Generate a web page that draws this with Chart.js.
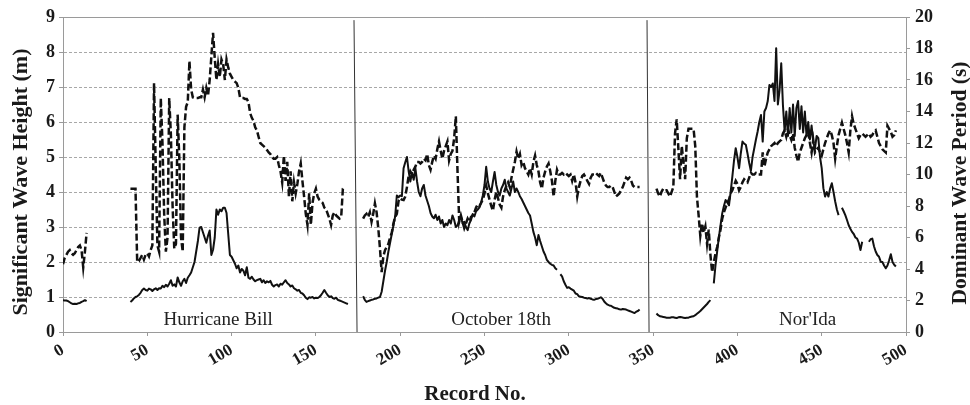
<!DOCTYPE html>
<html><head><meta charset="utf-8">
<script src="https://cdn.jsdelivr.net/npm/chart.js@4.4.0/dist/chart.umd.min.js"></script>
<style>html,body{margin:0;padding:0;background:#fff;}#wrap{width:970px;height:405px;}</style>
</head><body><div id="wrap"><canvas id="c" width="970" height="405"></canvas></div>
<script>
// ---- DATA ----
const xTickValues = [0,50,100,150,200,250,300,350,400,450,500];
const heightTickValues = [0,1,2,3,4,5,6,7,8,9];
const periodTickValues = [0,2,4,6,8,10,12,14,16,18,20];

// significant wave height (m): segments start at these record numbers, one value per record
const heightStarts = [0, 40, 178, 352, 386];
const heightBillEarly = [0.91,0.90,0.90,0.88,0.85,0.82,0.80,0.81,0.80,0.82,0.83,0.86,0.88,0.91,0.88];
const heightBill = [
 0.86,0.90,0.96,1.00,1.02,1.06,1.12,1.20,1.24,1.20,
 1.18,1.24,1.22,1.17,1.22,1.25,1.20,1.25,1.24,1.32,
 1.28,1.35,1.30,1.38,1.48,1.32,1.36,1.30,1.56,1.42,
 1.32,1.45,1.52,1.40,1.55,1.62,1.70,1.85,2.00,2.30,
 2.60,2.98,3.00,2.85,2.70,2.55,2.75,2.90,2.20,2.35,
 2.70,3.50,3.35,3.50,3.45,3.55,3.55,3.40,2.80,2.20,
 2.15,2.05,1.95,1.82,1.90,1.70,1.80,1.75,1.62,1.85,
 1.55,1.52,1.58,1.50,1.45,1.48,1.50,1.52,1.42,1.48,
 1.40,1.45,1.42,1.46,1.35,1.30,1.34,1.36,1.30,1.38,
 1.35,1.42,1.48,1.40,1.36,1.30,1.33,1.25,1.22,1.18,
 1.20,1.12,1.10,1.05,0.98,0.94,0.99,0.98,1.00,0.96,
 0.98,0.97,1.00,1.05,1.12,1.20,1.12,1.05,1.00,1.02,
 0.97,0.95,0.98,0.92,0.90,0.88,0.86,0.84,0.82,0.80];
const heightOctober = [
 1.02,0.92,
 0.86,0.88,0.90,0.92,0.93,0.95,0.96,0.98,1.00,1.15,
 1.45,1.75,2.00,2.30,2.55,2.80,3.05,3.30,3.90,3.85,
 3.90,3.88,4.68,4.85,5.00,4.60,4.30,4.55,4.35,4.68,
 4.30,4.00,3.88,4.10,4.20,3.90,3.75,3.60,3.40,3.30,
 3.25,3.35,3.20,3.30,3.10,3.20,3.00,3.10,3.05,3.20,
 3.10,3.33,3.20,3.00,3.05,3.20,3.30,3.10,3.15,3.00,
 2.91,3.10,3.20,3.37,3.30,3.45,3.50,3.56,3.70,3.90,
 4.20,4.72,4.30,4.10,4.00,4.30,4.57,4.20,4.00,3.90,
 4.10,4.20,4.35,4.10,4.00,3.90,4.10,4.30,4.00,4.10,
 4.00,3.88,3.80,3.70,3.60,3.50,3.40,3.33,3.10,2.86,
 2.70,2.48,2.77,2.60,2.45,2.30,2.20,2.06,2.00,1.95,
 1.92,1.90,1.82,1.78,null,1.65,1.59,1.45,1.35,1.26,
 1.28,1.24,1.21,1.18,1.10,1.08,1.02,1.01,1.00,0.98,
 0.97,0.96,0.97,0.95,0.93,0.92,0.94,0.95,0.97,0.99,
 0.95,0.87,0.82,0.78,0.76,0.75,0.72,0.69,0.68,0.67,
 0.65,0.64,0.66,0.65,0.64,0.62,0.60,0.58,0.56,0.54,
 0.58,0.60,0.64];
const heightNorIdaEarly = [
 0.53,0.48,0.45,0.44,0.43,0.42,0.41,0.41,0.41,0.42,
 0.42,0.41,0.40,0.42,0.43,0.42,0.41,0.40,0.41,0.41,
 0.43,0.44,0.45,0.48,0.52,0.56,0.60,0.65,0.70,0.75,
 0.80,0.86,0.91];
const heightNorIda = [
 1.39,1.90,2.30,2.70,3.05,3.39,3.60,3.77,3.70,3.62,
 4.00,4.44,4.90,5.25,5.00,4.68,5.10,5.44,5.38,5.35,
 5.10,4.83,4.60,5.00,5.25,5.50,5.73,6.00,6.20,5.44,
 6.30,6.40,6.60,7.06,7.00,7.10,6.60,8.11,6.50,6.90,
 7.68,6.49,5.73,6.30,5.60,6.40,5.70,6.50,5.60,6.40,
 6.60,5.80,6.45,5.70,6.30,5.60,6.00,5.50,5.90,5.40,
 5.25,5.60,5.54,5.00,4.68,4.11,3.87,4.00,3.87,4.10,
 4.25,4.00,3.73,3.50,3.34,null,3.55,3.45,3.34,3.20,
 3.05,2.95,2.86,2.80,2.70,2.67,2.55,2.34,2.58,null,
 null,null,2.58,2.65,2.67,2.45,2.30,2.20,2.15,2.01,
 2.00,1.90,1.82,1.90,2.05,2.22,2.00,1.92,1.87];

// dominant wave period (s)
const periodStarts = [0, 40, 178, 352];
const periodBillEarly = [4.3,4.7,4.9,5.1,5.2,5.0,4.9,5.0,5.2,5.4,5.5,5.2,4.1,5.1,6.3];
const periodBill = [
 9.1,9.1,9.1,9.1,4.45,4.5,4.7,4.9,4.6,4.9,
 5.0,4.8,5.2,5.5,15.8,10.5,5.5,5.1,14.85,12.0,
 7.5,5.1,6.0,14.85,12.5,8.0,5.3,5.6,13.8,11.0,
 6.0,5.1,13.0,14.3,14.6,17.2,15.4,14.9,14.85,14.85,
 14.85,14.9,14.9,15.4,14.9,15.5,15.0,16.0,17.5,19.0,
 17.4,16.0,17.0,16.2,17.3,17.0,16.0,17.3,16.8,16.4,
 16.2,16.0,15.9,15.8,15.5,14.9,14.85,14.85,14.8,14.8,
 14.6,13.9,13.6,13.4,13.0,12.8,12.4,12.0,11.9,11.8,
 11.7,11.55,11.4,11.3,11.1,11.0,11.0,11.1,10.6,10.2,
 9.5,11.2,9.6,10.8,8.6,10.2,8.3,9.5,8.8,9.4,
 10.2,10.7,9.6,8.6,7.5,6.8,8.8,6.8,8.2,8.8,
 9.1,8.6,8.4,8.3,8.2,7.9,7.8,7.5,7.2,6.8,
 7.4,7.6,7.4,7.3,7.2,7.3,9.1,9.2];
const periodOctober = [
 7.2,7.4,
 7.5,7.3,7.6,7.0,7.5,8.17,7.6,6.6,5.3,3.8,
 4.8,5.2,5.4,5.6,6.0,6.3,6.9,7.3,7.5,8.3,
 8.5,8.4,8.38,8.6,9.2,9.9,10.2,10.0,10.3,10.5,
 10.8,10.8,10.7,10.8,11.0,10.9,11.3,10.6,10.3,10.8,
 11.2,11.0,11.6,12.1,11.5,11.0,11.5,11.8,12.1,10.9,
 11.3,11.5,12.3,13.7,10.2,7.0,7.4,7.0,6.6,6.9,
 7.2,7.0,7.3,7.4,7.6,7.9,8.1,8.0,8.2,8.4,
 8.8,9.3,8.8,8.4,8.0,7.7,8.4,8.9,8.5,8.1,
 7.9,8.6,9.0,9.3,9.5,9.2,9.8,10.3,10.8,11.45,
 11.0,11.3,10.6,10.8,10.4,10.2,10.0,10.4,10.0,10.8,
 11.2,10.6,10.2,9.5,9.1,9.8,10.2,10.5,10.7,10.2,
 9.6,8.6,9.6,10.3,10.0,10.0,10.1,10.0,10.1,10.0,
 9.9,10.0,9.6,10.0,9.5,8.6,9.2,9.6,9.9,10.0,
 9.8,9.6,9.4,9.8,10.0,10.0,10.1,10.0,9.9,10.1,
 9.8,9.5,9.3,9.2,9.2,9.3,9.2,8.9,8.6,8.7,
 8.8,9.0,9.2,9.5,9.8,9.7,9.8,9.6,9.3,9.2,
 9.2,9.2,9.2];
const periodNorIda = [
 9.1,8.8,8.6,8.9,9.1,9.0,9.0,8.8,8.6,8.9,
 9.2,12.6,13.5,11.6,9.7,11.8,10.8,9.7,12.3,12.9,
 12.9,12.9,12.9,11.8,8.6,7.4,6.1,6.9,6.3,6.7,
 5.6,6.5,4.9,3.8,4.4,5.0,5.4,6.0,6.5,7.2,
 7.6,7.9,8.2,8.4,8.8,9.0,9.3,9.6,9.4,9.0,
 9.2,9.5,9.7,9.6,9.5,9.8,10.1,10.0,10.0,10.1,
 10.0,10.0,10.0,11.4,10.5,11.0,11.4,11.6,11.8,11.9,
 12.0,11.8,12.0,12.1,12.2,12.6,12.8,12.4,12.9,12.5,
 12.2,12.6,11.7,11.2,10.8,11.4,11.7,12.0,12.3,12.5,
 12.7,12.0,11.4,12.2,11.4,11.6,11.7,11.4,11.2,11.6,
 12.0,12.3,12.6,12.8,12.5,12.0,11.0,11.8,12.5,12.9,
 13.3,12.9,12.5,12.0,11.4,12.8,13.7,13.2,12.9,12.6,
 12.3,12.5,12.6,12.5,12.4,12.5,12.6,12.4,12.5,12.7,
 12.8,12.4,12.0,11.8,11.6,11.5,11.4,13.1,12.9,12.7,
 12.4,12.5,12.8];

// event separators (record numbers at top / bottom, top height level)
const separatorTopRecords = [172.6, 346.4];
const separatorBottomRecords = [174.4, 347.6];
const separatorTopLevel = 8.91;

// event labels
const eventNames = ["Hurricane Bill", "October 18th", "Nor'Ida"];
const eventCenterRecords = [92, 259.8, 441.6];
const eventLabelLevel = 0.21;

const xTitle = "Record No.";
const leftTitle = "Significant Wave Height (m)";
const rightTitle = "Dominant Wave Period (s)";

// ---- BUILD ----
function joinSegments(starts, segs){
  const out = [];
  segs.forEach((s,k)=>{
    if (k) out.push({x: starts[k]-0.5, y: null});
    s.forEach((v,i)=>out.push({x: starts[k]+i, y: v}));
  });
  return out;
}
const heightData = joinSegments(heightStarts, [heightBillEarly, heightBill, heightOctober, heightNorIdaEarly, heightNorIda]);
const periodData = joinSegments(periodStarts, [periodBillEarly, periodBill, periodOctober, periodNorIda]);

const serif = "'Liberation Serif', 'Times New Roman', Times, serif";
const tickFont = {family: serif, size: 18, weight: 'bold'};
const textColor = '#1a1a1a';
const axisGray = '#9a9a9a';

const separatorSets = separatorTopRecords.map((t,i)=>({
  data: [{x: t, y: separatorTopLevel}, {x: separatorBottomRecords[i], y: 0}],
  yAxisID: 'y', borderColor: '#333', borderWidth: 1, pointRadius: 0, tension: 0
}));

const decorations = {
  id: 'decorations',
  afterDraw(chart){
    const {ctx, chartArea: a, scales: {x, y}} = chart;
    ctx.save();
    ctx.strokeStyle = axisGray; ctx.lineWidth = 1;
    ctx.beginPath(); ctx.moveTo(a.left, a.top + 0.5); ctx.lineTo(a.right, a.top + 0.5); ctx.stroke();
    ctx.fillStyle = '#222';
    ctx.font = '19px ' + serif;
    ctx.textAlign = 'center'; ctx.textBaseline = 'alphabetic';
    eventNames.forEach((n,i)=>ctx.fillText(n, x.getPixelForValue(eventCenterRecords[i]), y.getPixelForValue(eventLabelLevel)));
    ctx.fillStyle = textColor;
    ctx.font = 'bold 21px ' + serif;
    ctx.fillText(xTitle, 475, 400);
    ctx.font = 'bold 22px ' + serif;
    ctx.save(); ctx.translate(26.5, 182); ctx.rotate(-Math.PI/2); ctx.fillText(leftTitle, 0, 0); ctx.restore();
    ctx.font = 'bold 21.5px ' + serif;
    ctx.save(); ctx.translate(966, 183); ctx.rotate(-Math.PI/2); ctx.fillText(rightTitle, 0, 0); ctx.restore();
    ctx.restore();
  }
};

new Chart(document.getElementById('c'), {
  type: 'line',
  data: { datasets: [
    {label: 'Significant Wave Height (m)', data: heightData, yAxisID: 'y', borderColor: '#111', borderWidth: 2, pointRadius: 0, tension: 0, spanGaps: false, borderJoinStyle: 'round'},
    {label: 'Dominant Wave Period (s)', data: periodData, yAxisID: 'y2', borderColor: '#111', borderWidth: 2.5, borderDash: [7,3], pointRadius: 0, tension: 0, spanGaps: false},
    ...separatorSets
  ]},
  options: {
    responsive: false, animation: false, events: [],
    layout: {padding: {top: 17, left: 0, right: 0, bottom: 0}},
    plugins: {legend: {display: false}, tooltip: {enabled: false}},
    scales: {
      x: {
        type: 'linear', min: 0, max: 500,
        afterBuildTicks(s){ s.ticks = xTickValues.map(v=>({value: v})); },
        ticks: {font: {family: serif, size: 17, weight: 'bold'}, color: textColor, minRotation: 30, maxRotation: 30, autoSkip: false, padding: 4},
        grid: {drawOnChartArea: false, drawTicks: true, tickLength: 4, tickColor: axisGray},
        border: {color: axisGray},
        afterFit(s){ s.height = 73; }
      },
      y: {
        position: 'left', min: 0, max: 9,
        afterBuildTicks(s){ s.ticks = heightTickValues.map(v=>({value: v})); },
        ticks: {font: tickFont, color: textColor, padding: 4},
        grid: {color: '#a8a8a8', lineWidth: 1, tickLength: 4, tickColor: axisGray},
        border: {color: axisGray, dash: [3,2]},
        afterFit(s){ s.width = 63; }
      },
      y2: {
        position: 'right', min: 0, max: 20,
        afterBuildTicks(s){ s.ticks = periodTickValues.map(v=>({value: v})); },
        ticks: {font: tickFont, color: textColor, padding: 5},
        grid: {drawOnChartArea: false, tickLength: 4, tickColor: axisGray},
        border: {color: axisGray},
        afterFit(s){ s.width = 64; }
      }
    }
  },
  plugins: [decorations]
});
</script></body></html>
